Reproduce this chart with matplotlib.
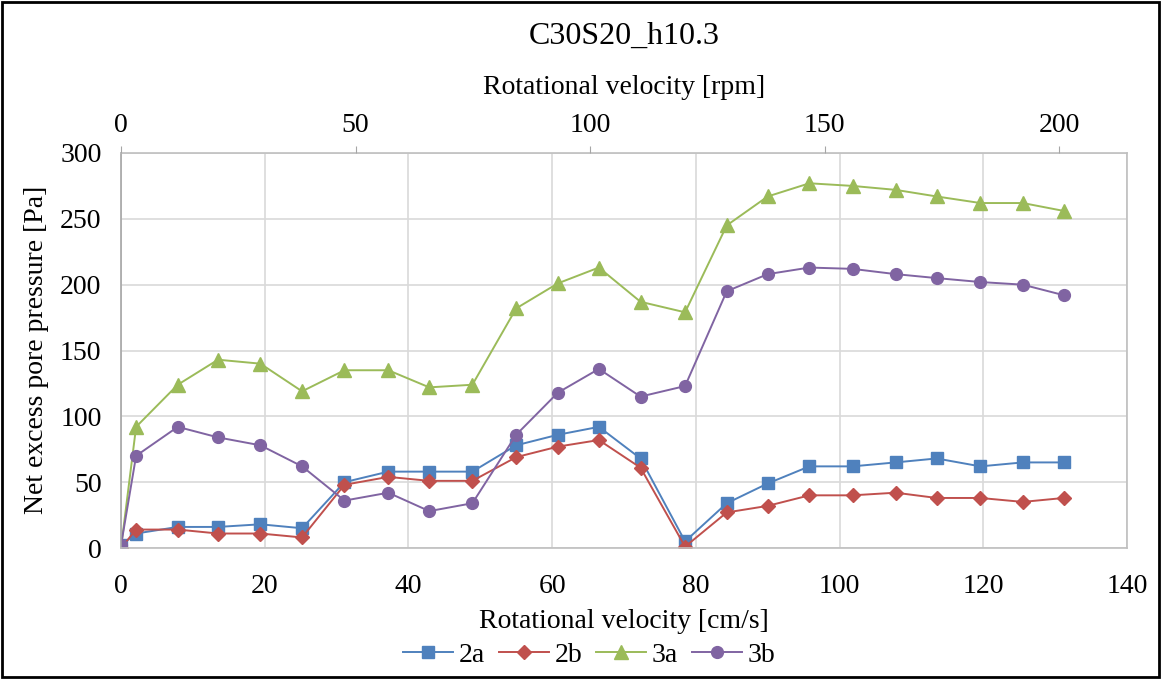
import numpy as np
import matplotlib
matplotlib.use('Agg')
import matplotlib.pyplot as plt
from matplotlib.patches import Rectangle

plt.rcParams['font.family'] = ['Liberation Serif', 'DejaVu Serif']

# velocity in cm/s (bottom axis)
velocity = [0, 2.1, 7.9, 13.5, 19.4, 25.2, 31.1, 37.2, 42.9, 48.9, 55.0, 60.8,
            66.5, 72.3, 78.5, 84.3, 90.0, 95.8, 101.8, 107.8, 113.5, 119.6, 125.5, 131.2]

# net excess pore pressure [Pa] for each sensor
p_2a = [2, 11, 16, 16, 18, 15, 50, 58, 58, 58, 78, 86,
        92, 68, 5, 34, 49, 62, 62, 65, 68, 62, 65, 65]
p_2b = [0, 14, 14, 11, 11, 8, 48, 54, 51, 51, 69, 77,
        82, 61, 1, 27, 32, 40, 40, 42, 38, 38, 35, 38]
p_3a = [0, 92, 124, 143, 140, 119, 135, 135, 122, 124, 182, 201,
        213, 187, 179, 245, 267, 277, 275, 272, 267, 262, 262, 256]
p_3b = [2, 70, 92, 84, 78, 62, 36, 42, 28, 34, 86, 118,
        136, 115, 123, 195, 208, 213, 212, 208, 205, 202, 200, 192]

series_names = ['2a', '2b', '3a', '3b']
rpm_ticks = [0, 50, 100, 150, 200]
rpm_per_cms = 1.532  # conversion between the two x scales

fig = plt.figure(figsize=(11.61, 6.79), dpi=100)
ax = fig.add_axes([121 / 1161, 1 - 548 / 679, 1006 / 1161, 395 / 679])

# outer frame round the whole picture
fig.patches.append(Rectangle((0.002, 0.003), 0.996, 0.994, transform=fig.transFigure,
                             fill=False, edgecolor='black', linewidth=2))

ax.plot(velocity, p_2a, color='#4F81BD', marker='s', markersize=8, linewidth=1.4, label=series_names[0])
ax.plot(velocity, p_2b, color='#C0504D', marker='D', markersize=7, linewidth=1.4, label=series_names[1])
ax.plot(velocity, p_3a, color='#9BBB59', marker='^', markersize=10.5, linewidth=1.4, label=series_names[2])
ax.plot(velocity, p_3b, color='#8064A2', marker='o', markersize=8.5, linewidth=1.4, label=series_names[3])

ax.set_xlim(0, 140)
ax.set_ylim(0, 300)
ax.set_xticks(range(0, 141, 20))
ax.set_yticks(range(0, 301, 50))
ax.grid(color='#D9D9D9', linewidth=1.2)
ax.set_axisbelow(True)
for s in ax.spines.values():
    s.set_color('#BFBFBF')
    s.set_linewidth(1.2)
ax.spines['left'].set_color('#A6A6A6')
ax.tick_params(axis='x', length=0, pad=19, labelsize=20)
ax.tick_params(axis='y', length=0, pad=14, labelsize=20)

# top axis in rpm
top = ax.twiny()
top.set_xlim(0, 140 * rpm_per_cms)
top.set_xticks(rpm_ticks)
top.tick_params(axis='x', direction='out', length=5, color='#A6A6A6', pad=6, labelsize=20)
for s in top.spines.values():
    s.set_visible(False)

fig.text(0.5 * (121 + 1127) / 1161, 1 - 36 / 679, 'C30S20_h10.3', ha='center', va='center', fontsize=23)
fig.text(0.5 * (121 + 1127) / 1161, 1 - 88 / 679, 'Rotational velocity [rpm]', ha='center', va='center', fontsize=20)
fig.text(0.5 * (121 + 1127) / 1161, 1 - 622 / 679, 'Rotational velocity [cm/s]', ha='center', va='center', fontsize=20)
fig.text(37 / 1161, 1 - 350 / 679, 'Net excess pore pressure [Pa]', ha='center', va='center',
         rotation=90, fontsize=20)

fig.legend(loc='center', bbox_to_anchor=(589 / 1161, 1 - 655 / 679), ncol=4, frameon=False,
           fontsize=20, handlelength=1.8, handletextpad=0.2, columnspacing=0.5)

fig.savefig('out.png', dpi=100)
